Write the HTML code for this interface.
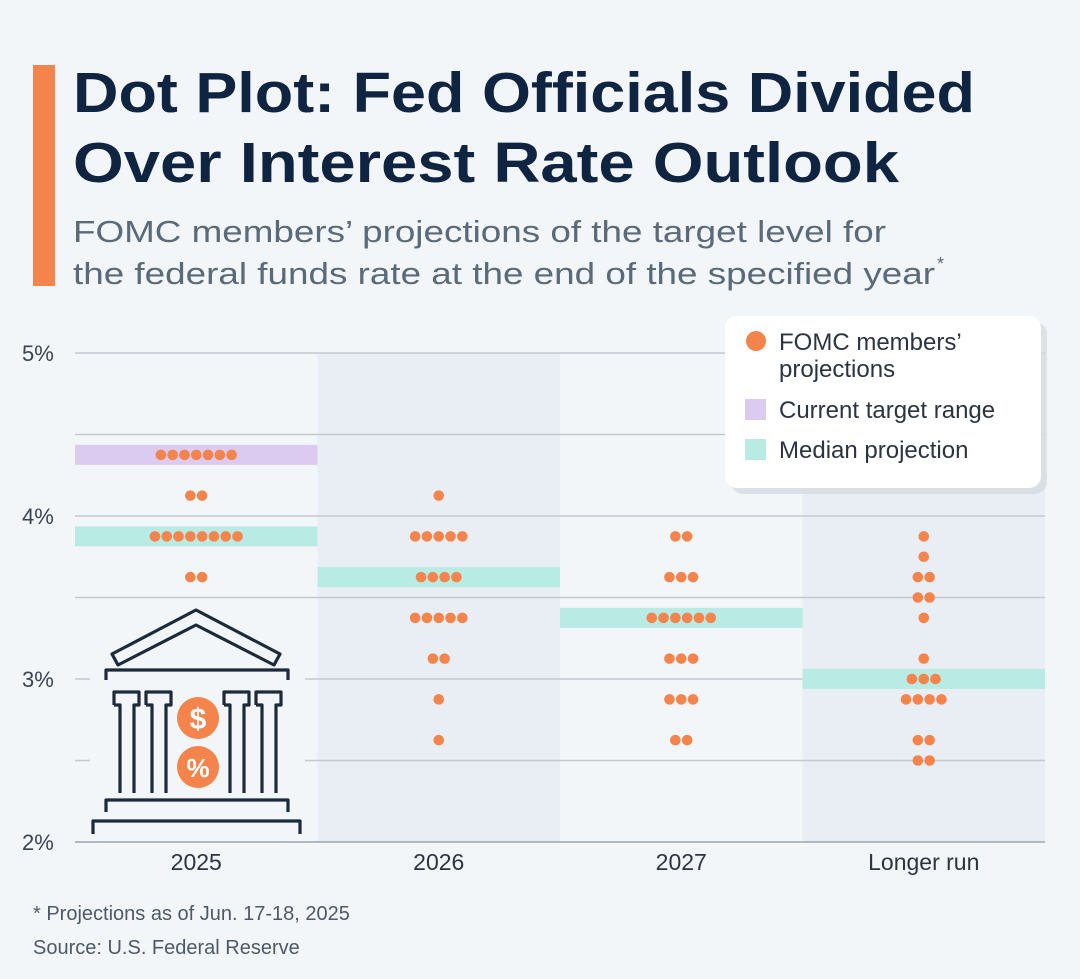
<!DOCTYPE html>
<html><head><meta charset="utf-8"><style>
body{margin:0;background:#f3f6f9;}
#wrap{position:relative;width:1080px;height:979px;background:#f3f6f9;font-family:"Liberation Sans",sans-serif;overflow:hidden}
</style></head><body>
<div id="wrap">
<svg id="chart" width="1080" height="979" style="position:absolute;left:0;top:0">
<rect x="33" y="65" width="22" height="221" fill="#f5844c"/>
<text x="73" y="112" font-size="57" font-weight="bold" fill="#0f2440" textLength="902" lengthAdjust="spacingAndGlyphs">Dot Plot: Fed Officials Divided</text>
<text x="73" y="182" font-size="57" font-weight="bold" fill="#0f2440" textLength="826" lengthAdjust="spacingAndGlyphs">Over Interest Rate Outlook</text>
<text x="73" y="242" font-size="31" fill="#5b6a78" textLength="813" lengthAdjust="spacingAndGlyphs">FOMC members’ projections of the target level for</text>
<text x="73" y="284" font-size="31" fill="#5b6a78" textLength="862" lengthAdjust="spacingAndGlyphs">the federal funds rate at the end of the specified year</text>
<text x="937" y="270" font-size="18" fill="#5b6a78">*</text>
<g id="plot"></g>
<g>
<rect x="731" y="322" width="316" height="172" rx="12" fill="#d6dbe2" opacity="0.8"/>
<rect x="725" y="316" width="316" height="172" rx="12" fill="#ffffff"/>
<circle cx="756" cy="341" r="10" fill="#f5844c"/>
<text x="779" y="350" font-size="24" fill="#2b3440">FOMC members’</text>
<text x="779" y="377" font-size="24" fill="#2b3440">projections</text>
<rect x="745" y="399" width="21" height="21" fill="#dccbf1"/>
<text x="779" y="418" font-size="24" fill="#2b3440">Current target range</text>
<rect x="745" y="439" width="21" height="21" fill="#b8ebe4"/>
<text x="779" y="458" font-size="24" fill="#2b3440">Median projection</text>
</g>
<g fill="none" stroke="#1c2a3a" stroke-width="3.2" stroke-linejoin="round">
<rect x="90" y="605" width="215" height="235" fill="#f3f6f9" stroke="none"/>
<path d="M196 610 L280 654 L274 665 L196 625 L118 665 L112 654 Z"/>
<path d="M106 680 V670 H288 V680"/>
<path d="M114 705 V692 H139 V705 H134 V793 M120 793 V705 H114"/>
<path d="M146 705 V692 H171 V705 H166 V793 M152 793 V705 H146"/>
<path d="M224 705 V692 H249 V705 H244 V793 M230 793 V705 H224"/>
<path d="M256 705 V692 H281 V705 H276 V793 M262 793 V705 H256"/>
<path d="M106 812 V800 H288 V812"/>
<path d="M93 834 V821 H300 V834"/>
<circle cx="198" cy="718" r="21" fill="#f5844c" stroke="none"/>
<circle cx="198" cy="767" r="21" fill="#f5844c" stroke="none"/>
<text x="198" y="729" font-size="30" font-weight="bold" fill="#fff" stroke="none" text-anchor="middle">$</text>
<text x="198" y="777" font-size="26" font-weight="bold" fill="#fff" stroke="none" text-anchor="middle">%</text>
</g>
<text x="33" y="920" font-size="20" fill="#4d5966">* Projections as of Jun. 17-18, 2025</text>
<text x="33" y="954" font-size="20" fill="#4d5966">Source: U.S. Federal Reserve</text>
</svg>
</div>
<script>
const categories=["2025","2026","2027","Longer run"];
const yTicks=[2,3,4,5];
const yTickLabels=["2%","3%","4%","5%"];
const medians=[3.875,3.625,3.375,3.0];
const currentRange=[4.25,4.5];
const dotRates2025=[4.375,4.125,3.875,3.625];
const dotCounts2025=[7,2,8,2];
const dotRates2026=[4.125,3.875,3.625,3.375,3.125,2.875,2.625];
const dotCounts2026=[1,5,4,5,2,1,1];
const dotRates2027=[3.875,3.625,3.375,3.125,2.875,2.625];
const dotCounts2027=[2,3,6,3,3,2];
const dotRatesLR=[3.875,3.75,3.625,3.5,3.375,3.125,3.0,2.875,2.625,2.5];
const dotCountsLR=[1,1,2,2,1,1,3,4,2,2];
const dotRates=[dotRates2025,dotRates2026,dotRates2027,dotRatesLR];
const dotCounts=[dotCounts2025,dotCounts2026,dotCounts2027,dotCountsLR];

const NS="http://www.w3.org/2000/svg";
const g=document.getElementById('plot');
const x0=75,x1=1045,bw=(x1-x0)/categories.length;
const y=v=>842-(v-2)*163;
const xc=i=>x0+bw*(i+0.5);
function mk(t,a){const e=document.createElementNS(NS,t);for(const k in a)e.setAttribute(k,a[k]);g.appendChild(e);return e;}
categories.forEach((c,i)=>{if(i%2===1){const r=mk('rect',{x:x0+bw*i,y:y(5),width:bw,height:y(2)-y(5),fill:'#e9eef4'});

}});
for(let v=2;v<=5;v+=0.5){const l=mk('line',{x1:x0,x2:x1,y1:y(v),y2:y(v),stroke:v===2?'#9aa3ad':'#c3c9d0','stroke-width':1.5});

}
yTicks.forEach((v,i)=>{const t=mk('text',{x:22,y:y(v)+8,'font-size':22,fill:'#3a4450'});t.textContent=yTickLabels[i];

});
const crMid=(currentRange[0]+currentRange[1])/2;
const cr=mk('rect',{x:x0,y:y(crMid)-10,width:bw,height:20,fill:'#dccbf1'});


medians.forEach((m,i)=>{const r=mk('rect',{x:x0+bw*i,y:y(m)-10,width:bw,height:20,fill:'#b8ebe4'});

});
categories.forEach((c,i)=>{
 dotRates[i].forEach((r,j)=>{const n=dotCounts[i][j];
  for(let k=0;k<n;k++){const d=mk('circle',{cx:xc(i)+(k-(n-1)/2)*11.8,cy:y(r),r:5.3,fill:'#f5844c'});
   
   }});
 const t=mk('text',{x:xc(i),y:870,'font-size':23,fill:'#2b3440','text-anchor':'middle'});t.textContent=c;
 
 
});
</script>
</body></html>
